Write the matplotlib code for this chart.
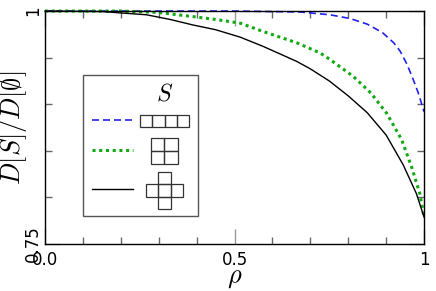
import matplotlib
matplotlib.use("Agg")
import matplotlib.pyplot as plt
from matplotlib.patches import Rectangle
from matplotlib.lines import Line2D

plt.rcParams['mathtext.fontset'] = 'cm'

rho_blue = [0.0, 0.3, 0.5, 0.673, 0.752, 0.805, 0.85, 0.89, 0.92, 0.937, 0.955, 0.972, 0.985, 1.0]
val_blue = [1.0, 1.0, 1.0, 0.999, 0.996, 0.992, 0.986, 0.977, 0.966, 0.957, 0.943, 0.926, 0.912, 0.892]

rho_green = [0.0, 0.2, 0.3, 0.391, 0.45, 0.515, 0.576, 0.664, 0.726, 0.752, 0.813, 0.86,
             0.902, 0.941, 0.967, 0.989, 1.0]
val_green = [1.0, 1.0, 0.9985, 0.994, 0.991, 0.987, 0.978, 0.966, 0.955, 0.948, 0.930, 0.912,
             0.890, 0.862, 0.833, 0.804, 0.779]

rho_black = [0.0, 0.15, 0.2, 0.268, 0.33, 0.391, 0.45, 0.515, 0.576, 0.664, 0.70, 0.75,
             0.80, 0.85, 0.90, 0.945, 0.98, 1.0]
val_black = [1.0, 0.9995, 0.998, 0.996, 0.991, 0.985, 0.980, 0.972, 0.962, 0.946, 0.938, 0.925,
             0.909, 0.891, 0.867, 0.835, 0.804, 0.779]

fig = plt.figure(figsize=(4.36, 2.91), dpi=100)
ax = fig.add_axes([0.1032, 0.1615, 0.8693, 0.8005])

ax.plot(rho_blue, val_blue, color='#2222ee', lw=1.2, dashes=(4.2, 2.4), clip_on=False)
ax.plot(rho_green, val_green, color='#11aa11', lw=2.2, dashes=(1, 1.2), clip_on=False)
ax.plot(rho_black, val_black, color='black', lw=1.0, clip_on=False)

ax.set_xlim(0, 1)
ax.set_ylim(0.75, 1)
ax.set_xticks([0, 0.5, 1])
ax.set_xticklabels(['0.0', '0.5', '1'])
ax.set_xticks([0.1, 0.2, 0.3, 0.4, 0.6, 0.7, 0.8, 0.9], minor=True)
ax.set_yticks([0.75, 1])
ax.set_yticklabels(['0.75', '1'], rotation=90, va='center')
ax.set_yticks([0.8, 0.85, 0.9, 0.95], minor=True)
ax.tick_params(which='major', direction='in', length=11, width=1, color='#999999',
               labelsize=12, top=True, right=True)
ax.tick_params(axis='x', which='major', pad=5)
ax.tick_params(axis='y', which='major', pad=2)
ax.tick_params(which='minor', direction='in', length=5, width=1, color='#666666',
               top=True, right=True)
for s in ax.spines.values():
    s.set_linewidth(1.0)

ax.set_xlabel(r'$\rho$', fontsize=19)
ax.xaxis.set_label_coords(0.5, -0.085)
ax.set_ylabel(r'$D[S]/D[\emptyset]$', fontsize=19)
ax.yaxis.set_label_coords(-0.042, 0.5)

# legend box
ax.add_patch(Rectangle((0.100, 0.120), 0.304, 0.605, transform=ax.transAxes,
                       fill=False, edgecolor='#555555', lw=1.0))
ax.text(0.317, 0.648, r'$S$', transform=ax.transAxes, fontsize=17, ha='center', va='center')
ax.add_line(Line2D([0.124, 0.232], [0.532, 0.532], transform=ax.transAxes,
                   color='#2222ee', lw=1.2, dashes=(4.2, 2.4)))
ax.add_line(Line2D([0.124, 0.232], [0.403, 0.403], transform=ax.transAxes,
                   color='#11aa11', lw=2.2, dashes=(1, 1.2)))
ax.add_line(Line2D([0.124, 0.232], [0.236, 0.236], transform=ax.transAxes,
                   color='black', lw=1.0))

cw, ch = 12.3 / 379, 12.3 / 233
def cell(x0, y0, i, j, w=cw, h=ch):
    ax.add_patch(Rectangle((x0 + i * w, y0 + j * h), w, h, transform=ax.transAxes,
                           fill=False, edgecolor='#333333', lw=0.9))

# row of 4
x0, y0 = (140 - 45) / 379, (244 - 127.3) / 233
for i in range(4):
    cell(x0, y0, i, 0)
# 2x2
w2, h2 = 13.3 / 379, 13.3 / 233
x0, y0 = (151 - 45) / 379, (244 - 164.3) / 233
for i in range(2):
    for j in range(2):
        cell(x0, y0, i, j, w2, h2)
# plus
x0, y0 = (146 - 45) / 379, (244 - 209) / 233
for (i, j) in [(1, 0), (0, 1), (1, 1), (2, 1), (1, 2)]:
    cell(x0, y0, i, j)

fig.savefig('out.png', dpi=100)
